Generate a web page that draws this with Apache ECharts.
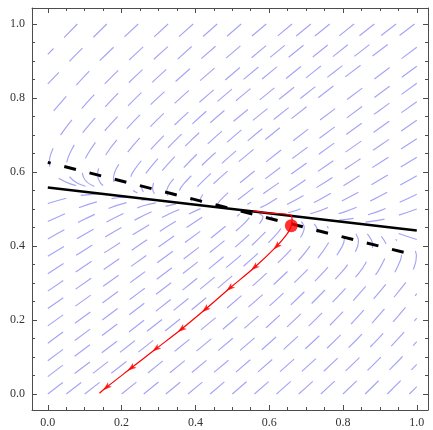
<!DOCTYPE html>
<html><head><meta charset="utf-8">
<script src="https://cdn.jsdelivr.net/npm/echarts@6/dist/echarts.min.js"></script>
<style>html,body{margin:0;padding:0;background:#fff}#c{width:433px;height:430px}</style>
</head><body><div id="c"></div>
<script>
// ---------- data ----------
const xTickValues = [0, 0.2, 0.4, 0.6, 0.8, 1.0];
const xTickLabels = ['0.0', '0.2', '0.4', '0.6', '0.8', '1.0'];
const yTickValues = [0, 0.2, 0.4, 0.6, 0.8, 1.0];
const yTickLabels = ['0.0', '0.2', '0.4', '0.6', '0.8', '1.0'];
const minorTickValues = [0.05,0.1,0.15,0.25,0.3,0.35,0.45,0.5,0.55,0.65,0.7,0.75,0.85,0.9,0.95];

const solidLine  = [[0, 0.558], [1, 0.442]];
const dashedLine = [[0, 0.626], [1, 0.374]];

const redPath = [[0.557,0.495],[0.600,0.489],[0.657,0.484],[0.662,0.470],[0.660,0.455],[0.655,0.443],[0.645,0.428],
  [0.620,0.399],[0.560,0.342],[0.493,0.286],[0.427,0.229],[0.362,0.175],[0.293,0.122],[0.226,0.070],[0.159,0.018],[0.140,0.002]];
const redArrows = [[0.620,0.399],[0.560,0.342],[0.493,0.286],[0.427,0.229],[0.362,0.175],[0.293,0.122],[0.226,0.070],[0.159,0.018]];
const redPoint = [[0.66, 0.455]];

// stream lines (each drawn dashed)
const streamUpperLeft = [
  [[0.08,1.0],[0.0,0.918]],
  [[0.16,1.0],[0.079,0.92],[0.0,0.838]],
  [[0.245,1.0],[0.113,0.873],[0.0,0.747]],
  [[0.326,1.0],[0.165,0.849],[0.059,0.733],[0.017,0.669],[0.004,0.625],[0.014,0.596],[0.033,0.581],[0.061,0.568],[0.092,0.56]],
  [[0.394,1.0],[0.22,0.842],[0.111,0.726],[0.066,0.663],[0.05,0.613],[0.06,0.586],[0.082,0.569],[0.118,0.557]],
  [[0.459,1.0],[0.274,0.834],[0.161,0.719],[0.108,0.648],[0.093,0.603],[0.102,0.577],[0.124,0.562],[0.158,0.551]],
  [[0.524,1.0],[0.327,0.827],[0.21,0.713],[0.149,0.634],[0.135,0.592],[0.143,0.57],[0.162,0.556]],
  [[0.592,1.0],[0.382,0.82],[0.262,0.706],[0.192,0.62],[0.178,0.581],[0.185,0.562],[0.201,0.55]],
  [[0.662,1.0],[0.438,0.812],[0.315,0.699],[0.234,0.605],[0.222,0.57],[0.228,0.553],[0.243,0.543]],
  [[0.713,1.0],[0.479,0.807],[0.353,0.693],[0.266,0.597],[0.253,0.563],[0.259,0.546]],
  [[0.764,1.0],[0.52,0.801],[0.391,0.688],[0.297,0.588],[0.284,0.555],[0.289,0.541]],
  [[0.83,1.0],[0.573,0.794],[0.44,0.682],[0.338,0.578],[0.322,0.545],[0.326,0.534]],
  [[0.885,1.0],[0.616,0.788],[0.481,0.676],[0.37,0.57],[0.354,0.537],[0.357,0.528]],
  [[0.944,1.0],[0.663,0.782],[0.525,0.67],[0.402,0.557],[0.387,0.529],[0.39,0.521]],
  [[0.994,1.0],[0.702,0.777],[0.562,0.665],[0.433,0.553],[0.413,0.522],[0.416,0.516]],
  [[1.0,0.937],[0.822,0.804],[0.628,0.656],[0.498,0.552],[0.466,0.522],[0.459,0.51]],
  [[1.0,0.886],[0.779,0.723],[0.582,0.576],[0.505,0.517]]
];
const streamUpperRight = [
  [[1.0,0.84],[0.829,0.716],[0.625,0.57],[0.541,0.512]],
  [[1.0,0.79],[0.833,0.672],[0.675,0.563],[0.595,0.513],[0.567,0.5]],
  [[1.0,0.74],[0.836,0.628],[0.725,0.556],[0.652,0.514],[0.615,0.498]],
  [[1.0,0.69],[0.837,0.585],[0.741,0.528],[0.685,0.501],[0.651,0.49]],
  [[1.0,0.64],[0.861,0.556],[0.781,0.514],[0.725,0.491],[0.689,0.483]],
  [[1.0,0.59],[0.883,0.526],[0.806,0.493],[0.752,0.479]],
  [[1.0,0.54],[0.905,0.497],[0.836,0.476],[0.789,0.47]],
  [[1.0,0.5],[0.919,0.474],[0.85,0.463]]
];
const streamLowerLeft = [
  [[0,0.515],[0.066,0.533],[0.113,0.539],[0.16,0.541]],
  [[0,0.466],[0.086,0.504],[0.144,0.522],[0.196,0.531],[0.232,0.532]],
  [[0,0.419],[0.091,0.468],[0.166,0.502],[0.225,0.52],[0.268,0.525]],
  [[0,0.372],[0.113,0.439],[0.205,0.488],[0.264,0.51],[0.307,0.519]],
  [[0,0.325],[0.145,0.418],[0.243,0.474],[0.31,0.504],[0.348,0.514]],
  [[0,0.278],[0.143,0.375],[0.256,0.446],[0.331,0.488],[0.376,0.506]],
  [[0,0.231],[0.196,0.367],[0.304,0.44],[0.374,0.482],[0.414,0.501]],
  [[0,0.184],[0.196,0.324],[0.351,0.433],[0.428,0.484],[0.453,0.498]],
  [[0,0.137],[0.245,0.317],[0.426,0.449]]
];
const streamLowerRight = [
  [[0,0.09],[0.247,0.274],[0.422,0.406],[0.497,0.466],[0.52,0.487]],
  [[0,0.047],[0.243,0.231],[0.4345,0.379],[0.524,0.453],[0.549,0.48],[0.552,0.488],[0.5485,0.492]],
  [[0,0],[0.293,0.224],[0.479,0.373],[0.556,0.44],[0.579,0.468],[0.583,0.479],[0.573,0.487]],
  [[0.05,0],[0.332,0.219],[0.515,0.368],[0.588,0.436],[0.606,0.46],[0.61,0.472],[0.605,0.4815]],
  [[0.1,0],[0.372,0.2135],[0.5505,0.363],[0.62,0.432],[0.636,0.456],[0.637,0.4655],[0.632,0.476]],
  [[0.2,0],[0.451,0.203],[0.622,0.353],[0.679,0.415],[0.695,0.451],[0.687,0.466]],
  [[0.26,0],[0.499,0.196],[0.666,0.347],[0.718,0.41],[0.731,0.442],[0.722,0.46]],
  [[0.32,0],[0.547,0.19],[0.709,0.3415],[0.758,0.404],[0.767,0.433],[0.757,0.453]],
  [[0.38,0],[0.596,0.183],[0.753,0.3356],[0.798,0.399],[0.804,0.423],[0.793,0.447]],
  [[0.44,0],[0.644,0.177],[0.797,0.33],[0.836,0.3895],[0.842,0.414],[0.831,0.44]],
  [[0.5,0],[0.693,0.17],[0.841,0.324],[0.875,0.38],[0.8805,0.404],[0.866,0.433]],
  [[0.56,0],[0.742,0.1635],[0.885,0.318],[0.915,0.37],[0.92,0.394],[0.904,0.426]],
  [[0.62,0],[0.791,0.157],[0.929,0.312],[0.955,0.36],[0.959,0.384],[0.943,0.4185]],
  [[0.68,0],[0.84,0.15],[0.974,0.306],[0.994,0.346],[0.999,0.374],[0.985,0.408]],
  [[0.74,0],[0.89,0.1435],[1.0,0.271]],
  [[1.0,0.4175],[0.95,0.434]],
  [[0.8,0],[0.902,0.099],[1.0,0.205]],
  [[0.86,0],[0.93,0.069],[1.0,0.1415]],
  [[0.92,0],[1.0,0.08]],
  [[0.98,0],[1.0,0.02]]
];

// ---------- chart ----------
const XMIN = -0.0428, XMAX = 1.0304, YMIN = -0.0433, YMAX = 1.0433;
const FRAME = '#4d4d4d';
const STREAM = '#a4a4f7';
const LABEL_FONT = {fontFamily: '"Liberation Serif","Times New Roman",serif', fontSize: 12, color: '#333'};

function labelFor(values, labels) {
  return v => { const i = values.findIndex(t => Math.abs(t - v) < 1e-9); return i >= 0 ? labels[i] : ''; };
}
function axis(kind, pos, ticks, len, showLine, labels) {
  const isX = kind === 'x';
  return {
    type: 'value', gridIndex: 0, position: pos,
    min: isX ? XMIN : YMIN, max: isX ? XMAX : YMAX,
    axisLine: {show: showLine, onZero: false, lineStyle: {color: FRAME, width: 1}},
    axisTick: {show: true, inside: true, length: len, customValues: ticks, lineStyle: {color: FRAME, width: 1}},
    axisLabel: labels ? Object.assign({show: true, customValues: ticks, margin: 7,
        formatter: labelFor(isX ? xTickValues : yTickValues, isX ? xTickLabels : yTickLabels)}, LABEL_FONT)
      : {show: false},
    splitLine: {show: false}
  };
}

const series = [];
[].concat(streamUpperLeft, streamUpperRight, streamLowerLeft, streamLowerRight).forEach(s => {
  series.push({type: 'line', data: s, showSymbol: false, symbol: 'none', smooth: 0.35, silent: true, z: 1,
    lineStyle: {color: STREAM, width: 1.15, type: [19, 15], dashOffset: 0}});
});
series.push({type: 'line', data: solidLine, showSymbol: false, symbol: 'none', silent: true, z: 3,
  lineStyle: {color: '#000', width: 2.4}});
series.push({type: 'line', data: dashedLine, showSymbol: false, symbol: 'none', silent: true, z: 3,
  lineStyle: {color: '#000', width: 3, type: [12, 14], dashOffset: 9}});
series.push({type: 'line', data: redPath, showSymbol: false, symbol: 'none', smooth: 0.3, silent: true, z: 4,
  lineStyle: {color: '#ff0000', width: 1.2}});
const arrowRot = redArrows.map((p, i) => {
  const q = i < redArrows.length - 1 ? redArrows[i + 1] : redPath[redPath.length - 1];
  return Math.atan2(q[1] - p[1], q[0] - p[0]) * 180 / Math.PI - 90;
});
series.push({type: 'scatter', data: redArrows, z: 5, silent: true,
  symbol: 'path://M5,0 L10,13 L5,10 L0,13 Z', symbolSize: [6, 9],
  symbolRotate: (v, p) => arrowRot[p.dataIndex], itemStyle: {color: '#ff0000'}});
series.push({type: 'scatter', data: redPoint, z: 6, silent: true, symbol: 'circle', symbolSize: 13,
  itemStyle: {color: '#ff0000'}});

const chart = echarts.init(document.getElementById('c'), null, {renderer: 'canvas'});
chart.setOption({
  animation: false,
  backgroundColor: '#fff',
  grid: {left: 32, right: 5, top: 8, bottom: 20, containLabel: false},
  xAxis: [
    axis('x', 'bottom', xTickValues, 5, true, true),
    axis('x', 'bottom', minorTickValues, 3, false, false),
    axis('x', 'top', xTickValues, 5, true, false),
    axis('x', 'top', minorTickValues, 3, false, false)
  ],
  yAxis: [
    axis('y', 'left', yTickValues, 5, true, true),
    axis('y', 'left', minorTickValues, 3, false, false),
    axis('y', 'right', yTickValues, 5, true, false),
    axis('y', 'right', minorTickValues, 3, false, false)
  ],
  series: series
});
</script></body></html>
